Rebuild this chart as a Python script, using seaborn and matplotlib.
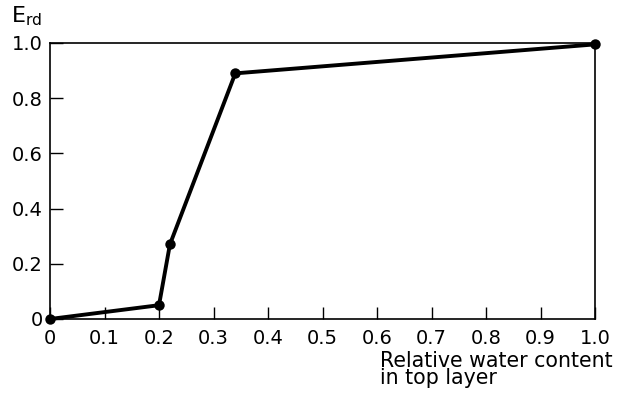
import matplotlib
matplotlib.use("Agg")
import matplotlib.pyplot as plt
import pandas as pd
import seaborn as sns

# relative water content in top layer vs. E_rd
water_content = [0.0, 0.20, 0.22, 0.34, 1.0]
e_rd = [0.0, 0.05, 0.27, 0.89, 0.995]

x_ticks = [0, 0.1, 0.2, 0.3, 0.4, 0.5, 0.6, 0.7, 0.8, 0.9, 1.0]
x_tick_labels = ["0", "0.1", "0.2", "0.3", "0.4", "0.5", "0.6", "0.7", "0.8", "0.9", "1.0"]
y_ticks = [0, 0.2, 0.4, 0.6, 0.8, 1.0]
y_tick_labels = ["0", "0.2", "0.4", "0.6", "0.8", "1.0"]

sns.set_theme(style="ticks")
plt.rcParams.update({
    'font.family': ['DejaVu Sans'],
    'mathtext.fontset': 'dejavusans',
    'text.color': 'black',
    'axes.edgecolor': 'black',
    'xtick.color': 'black',
    'ytick.color': 'black',
})

df = pd.DataFrame({'wc': water_content, 'erd': e_rd})

fig = plt.figure(figsize=(6.2, 3.98), dpi=100)
ax = fig.add_axes([50 / 620, 1 - 319 / 398, 545 / 620, 276 / 398])

sns.lineplot(data=df, x='wc', y='erd', color='black', linewidth=2.8,
             marker='o', markersize=7.5, markeredgewidth=0, ax=ax,
             clip_on=False, zorder=3)

ax.set_xlim(0, 1.0)
ax.set_ylim(0, 1.0)
ax.set_xticks(x_ticks)
ax.set_xticklabels(x_tick_labels)
ax.set_yticks(y_ticks)
ax.set_yticklabels(y_tick_labels)
ax.tick_params(direction='in', length=9, width=1.0, labelsize=14)
ax.tick_params(axis='x', pad=7)
ax.tick_params(axis='y', pad=5)
ax.set_xlabel('')
ax.set_ylabel('')
for sp in ax.spines.values():
    sp.set_linewidth(1.2)
    sp.set_visible(True)

fig.text(11 / 620, 1 - 28 / 398, r"E$_{\mathrm{rd}}$", fontsize=16,
         ha='left', va='bottom', color='black')
fig.text(380 / 620, 1 - 388 / 398, "Relative water content\nin top layer",
         fontsize=14.8, ha='left', va='bottom', linespacing=0.82,
         color='black')

fig.savefig("out.png", dpi=100, facecolor='white')
